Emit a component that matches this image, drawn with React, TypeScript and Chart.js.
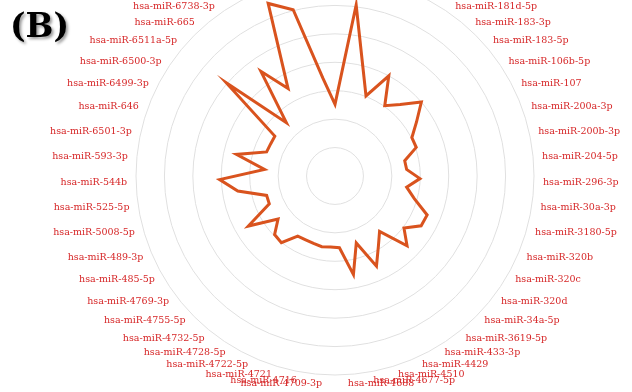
import React, { useEffect, useRef } from 'react';
import { Chart, registerables } from 'chart.js';

Chart.register(...registerables);

// miRNA names, clockwise from the top (the top and bottom ones fall outside the cropped view)
const mirnaLabels: string[] = [
  'hsa-let-7b-5p',
  'hsa-miR-1226-3p',
  'hsa-miR-1260a',
  'hsa-miR-146a-5p',
  'hsa-miR-17-5p',
  'hsa-miR-181d-5p',
  'hsa-miR-183-3p',
  'hsa-miR-183-5p',
  'hsa-miR-106b-5p',
  'hsa-miR-107',
  'hsa-miR-200a-3p',
  'hsa-miR-200b-3p',
  'hsa-miR-204-5p',
  'hsa-miR-296-3p',
  'hsa-miR-30a-3p',
  'hsa-miR-3180-5p',
  'hsa-miR-320b',
  'hsa-miR-320c',
  'hsa-miR-320d',
  'hsa-miR-34a-5p',
  'hsa-miR-3619-5p',
  'hsa-miR-433-3p',
  'hsa-miR-4429',
  'hsa-miR-4510',
  'hsa-miR-4677-5p',
  'hsa-miR-4688',
  'hsa-miR-4709-3p',
  'hsa-miR-4716',
  'hsa-miR-4721',
  'hsa-miR-4722-5p',
  'hsa-miR-4728-5p',
  'hsa-miR-4732-5p',
  'hsa-miR-4755-5p',
  'hsa-miR-4769-3p',
  'hsa-miR-485-5p',
  'hsa-miR-489-3p',
  'hsa-miR-5008-5p',
  'hsa-miR-525-5p',
  'hsa-miR-544b',
  'hsa-miR-593-3p',
  'hsa-miR-6501-3p',
  'hsa-miR-646',
  'hsa-miR-6499-3p',
  'hsa-miR-6500-3p',
  'hsa-miR-6511a-5p',
  'hsa-miR-665',
  'hsa-miR-6738-3p',
  'hsa-miR-6749-5p',
  'hsa-miR-6780a-5p',
  'hsa-miR-7-5p',
  'hsa-miR-9-5p',
];

// values (same order as the labels)
const seriesValues: number[] = [
  2.52, 6.06, 4.0, 3.02, 4.0, 3.03, 3.4, 4.0, 3.44, 3.02,
  3.03, 2.51, 2.53, 2.99, 2.55, 2.9, 3.52, 3.5, 3.04, 3.53,
  2.5, 2.9, 3.49, 2.47, 3.53, 2.53, 2.5, 2.53, 2.49, 2.47,
  2.49, 3.01, 2.96, 2.51, 3.52, 2.51, 2.5, 3.46, 4.06, 2.49,
  3.55, 2.55, 2.53, 2.54, 5.04, 2.54, 4.51, 3.49, 6.51, 6.03,
  3.47,
];

const scaleMin = 0;
const scaleMax = 7;
const scaleStep = 1;

const LINE_COLOR = '#D9531E';
const LABEL_COLOR = '#d62728';
const GRID_COLOR = '#e0e0e0';
const LABEL_FONT = '9.5px "DejaVu Serif"';
const LABEL_GAP = 9;

const labelPlugin = {
  id: 'radialMiLabels',
  afterDraw(chart: any) {
    const scale = chart.scales.r;
    const ctx = chart.ctx;
    ctx.save();
    ctx.font = LABEL_FONT;
    ctx.fillStyle = LABEL_COLOR;
    ctx.textBaseline = 'middle';
    (chart.data.labels as string[]).forEach((lab, i) => {
      const p = scale.getPointPosition(i, scale.drawingArea + LABEL_GAP);
      const dx = p.x - scale.xCenter;
      ctx.textAlign = Math.abs(dx) < 1 ? 'center' : dx > 0 ? 'left' : 'right';
      ctx.fillText(lab, p.x, p.y);
    });
    ctx.restore();
  },
};

export default function App() {
  const canvasRef = useRef<HTMLCanvasElement | null>(null);

  useEffect(() => {
    if (!canvasRef.current) return;
    const chart = new Chart(canvasRef.current, {
      type: 'radar',
      data: {
        labels: mirnaLabels,
        datasets: [
          {
            data: seriesValues,
            borderColor: LINE_COLOR,
            borderWidth: 3,
            pointRadius: 0,
            pointHoverRadius: 0,
            fill: false,
            tension: 0,
          },
        ],
      },
      options: {
        responsive: false,
        animation: false,
        layout: { padding: { left: 136, right: 98, top: 0, bottom: 20 } },
        plugins: {
          legend: { display: false },
          tooltip: { enabled: false },
        },
        scales: {
          r: {
            min: scaleMin,
            max: scaleMax,
            ticks: { display: false, stepSize: scaleStep },
            grid: { circular: true, color: GRID_COLOR, lineWidth: 1 },
            angleLines: { display: false },
            pointLabels: { display: false },
          },
        },
      },
      plugins: [labelPlugin],
    });
    return () => chart.destroy();
  }, []);

  return (
    <div
      style={{
        position: 'fixed',
        left: 0,
        top: 0,
        width: 632,
        height: 392,
        overflow: 'hidden',
        background: '#ffffff',
      }}
    >
      <canvas
        ref={canvasRef}
        width={632}
        height={420}
        style={{ position: 'absolute', left: 0, top: -24, width: 632, height: 420 }}
      />
      <div
        style={{
          position: 'absolute',
          left: 10,
          top: 9,
          font: 'bold 33px "DejaVu Serif"',
          lineHeight: '33px',
          color: '#000',
          textShadow: '2px 2px 3px rgba(0,0,0,0.4)',
          zIndex: 2,
        }}
      >
        (B)
      </div>
    </div>
  );
}
